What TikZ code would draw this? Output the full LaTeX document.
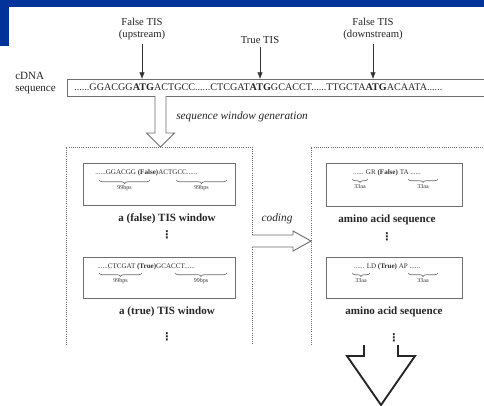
\documentclass[tikz,border=0pt]{standalone}
\usepackage{fontspec}
\setmainfont{Liberation Serif}
\newfontfamily\symfont{DejaVu Sans}
\usetikzlibrary{arrows.meta,decorations.pathreplacing}
\definecolor{slideblue}{RGB}{0,51,153}
\definecolor{linegray}{RGB}{110,110,110}
\tikzset{
  lbl/.style={font=\fontsize{8}{9.5}\selectfont, align=center, text=black!85, inner sep=0pt},
  seqbox/.style={draw=linegray, line width=0.6pt, inner sep=0pt},
  winbox/.style={draw=linegray, line width=0.6pt, densely dotted},
  smallseq/.style={font=\fontsize{5.3}{6}\selectfont, text=black!80, inner sep=0pt},
  bps/.style={font=\fontsize{4.5}{5}\selectfont, text=black!80, inner sep=0pt},
  capt/.style={font=\fontsize{8.3}{10}\selectfont\bfseries, text=black!85, inner sep=0pt},
  vdot/.style={font=\symfont\bfseries\fontsize{8}{8}\selectfont, text=black!85, inner sep=0pt},
  ubrace/.style={draw=linegray, line width=0.5pt, decorate, decoration={brace, mirror, amplitude=2.5pt}},
  hollow/.style={draw=linegray, line width=0.7pt, fill=white}
}
\begin{document}
\begin{tikzpicture}[x=0.75pt, y=-0.75pt]
    \clip (0,0) rectangle (484,405);
    \fill[white] (0,0) rectangle (484,405);
    % Slide corner
    \fill[slideblue] (0,0) rectangle (484,7);
    \fill[slideblue] (0,0) rectangle (9,46);

    % cDNA sequence
    \node[seqbox, anchor=north west, minimum width=340pt, minimum height=12.75pt] (cdna) at (67,79) {};
    \node[lbl, anchor=west, align=left, font=\fontsize{8.3}{9}\selectfont] (cdnalbl) at (15,83) {cDNA\\sequence};
    \node[anchor=west, inner sep=0pt, text=black!85, font=\fontsize{7.6}{8}\selectfont] (seq) at (74,87.5)
      {......GGACGG\textbf{ATG}ACTGCC......CTCGAT\textbf{ATG}GCACCT......TTGCTA\textbf{ATG}ACAATA......};

    % TIS labels
    \node[lbl] (fup) at (142,29) {False TIS\\(upstream)};
    \node[lbl] (ttrue) at (260,40) {True TIS};
    \node[lbl] (fdown) at (373,29) {False TIS\\(downstream)};
    \draw[-{Latex[length=5pt,width=4pt]}, black!80] ([yshift=-3pt]fup.south) -- (fup.south |- cdna.north);
    \draw[-{Latex[length=5pt,width=4pt]}, black!80] ([yshift=-2pt]ttrue.south) -- (ttrue.south |- cdna.north);
    \draw[-{Latex[length=5pt,width=4pt]}, black!80] ([yshift=-3pt]fdown.south) -- (fdown.south |- cdna.north);

    % Window generation
    \coordinate (gen) at (160.5,96);
    \draw[hollow] (gen) ++(-5.5,0) -- ++(0,37) -- ++(-8.5,0) -- ++(14,14) -- ++(14,-14) -- ++(-8.5,0) -- ++(0,-37);
    \node[lbl, anchor=west, font=\fontsize{8.5}{10}\selectfont\itshape] (genlbl) at (176,117) {sequence window generation};

    % Dotted frames
    \draw[winbox] (66,345) -- (66,147) -- (252,147) -- (252,345);
    \draw[winbox] (311,345) -- (311,147) -- (490,147);

    % TIS windows
    \node[seqbox, minimum width=114pt, minimum height=31.5pt] (fwin) at (159,184) {};
    \node[smallseq, anchor=west] (fwinseq) at (95,173) {......GGACGG \textbf{(False)}ACTGCC......};
    \draw[ubrace] (99,180) -- (150,180) node[bps, midway, below=4pt] (fbpsl) {99bps};
    \draw[ubrace] (176,180) -- (227,180) node[bps, midway, below=4pt] (fbpsr) {99bps};
    \node[capt] (fwincap) at (167,219) {a (false) TIS window};
    \node[vdot] (fwindots) at (167,235) {⋮};

    \node[seqbox, minimum width=114pt, minimum height=30.75pt] (twin) at (159,277.5) {};
    \node[smallseq, anchor=west] (twinseq) at (97,267) {......CTCGAT \textbf{(True)}GCACCT......};
    \draw[ubrace] (99,273) -- (142,273) node[bps, midway, below=4pt] (tbpsl) {99bps};
    \draw[ubrace] (175,273) -- (227,273) node[bps, midway, below=4pt] (tbpsr) {99bps};
    \node[capt] (twincap) at (167,312) {a (true) TIS window};
    \node[vdot] (twindots) at (167,337) {⋮};

    % Coding
    \coordinate (code) at (252,241);
    \draw[hollow] (code) ++(0,-6) -- ++(41,0) -- ++(0,-4) -- ++(18,10) -- ++(-18,10) -- ++(0,-4) -- ++(-41,0);
    \node[lbl, font=\fontsize{8.5}{10}\selectfont\itshape] (codelbl) at (277,219) {coding};

    % Amino acid sequences
    \node[seqbox, minimum width=102pt, minimum height=32.25pt] (faa) at (394,185) {};
    \node[smallseq] (faaseq) at (387,173) {...... GR \textbf{(False)} TA ......};
    \draw[ubrace] (352,179) -- (368,179) node[bps, midway, below=4pt] (faal) {33aa};
    \draw[ubrace] (408,179) -- (438,179) node[bps, midway, below=4pt] (faar) {33aa};
    \node[capt] (faacap) at (387,220) {amino acid sequence};
    \node[vdot] (faadots) at (387,237) {⋮};

    \node[seqbox, minimum width=102pt, minimum height=30.75pt] (taa) at (394.5,277.5) {};
    \node[smallseq] (taaseq) at (387,267) {...... LD \textbf{(True)} AP ......};
    \draw[ubrace] (352,273) -- (370,273) node[bps, midway, below=4pt] (taal) {33aa};
    \draw[ubrace] (408,273) -- (438,273) node[bps, midway, below=4pt] (taar) {33aa};
    \node[capt] (taacap) at (394,312) {amino acid sequence};
    \node[vdot] (taadots) at (394,338) {⋮};

    % Output arrow
    \coordinate (out) at (381,345);
    \draw[black!85, line width=1.4pt, line join=miter] (out) ++(-17,0) -- ++(0,11) -- ++(-17,0) -- ++(34,49) -- ++(34,-49) -- ++(-17,0) -- ++(0,-11);
\end{tikzpicture}
\end{document}
